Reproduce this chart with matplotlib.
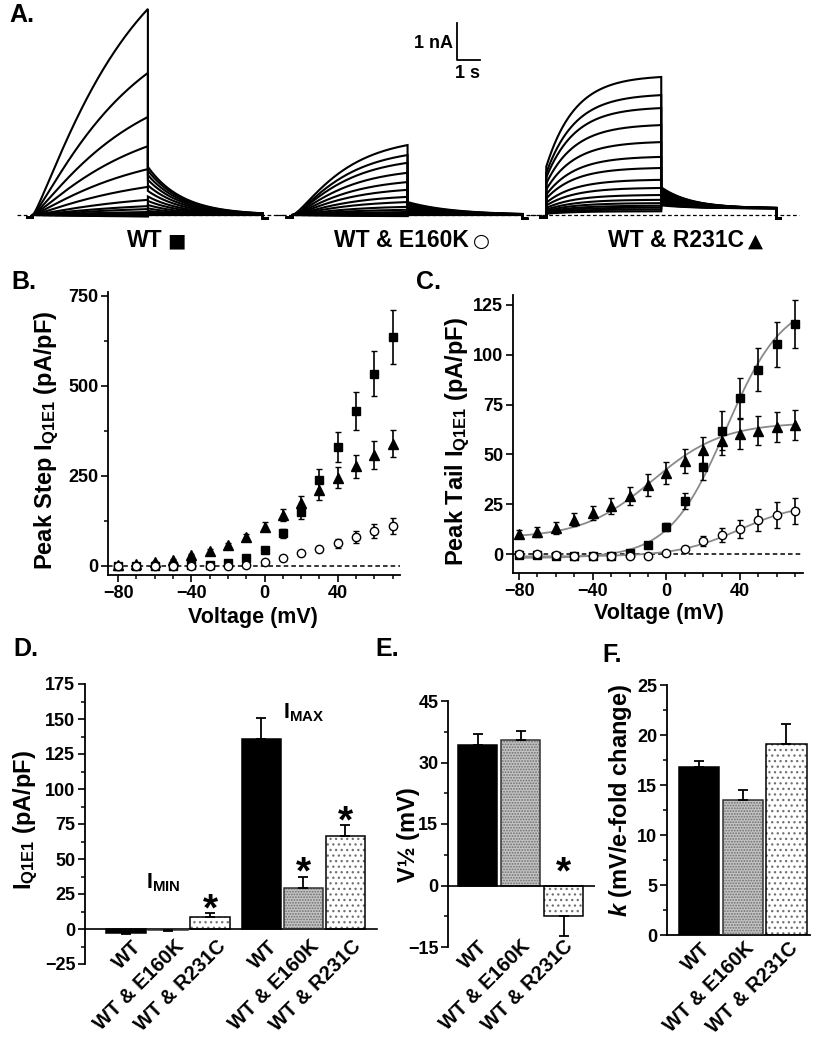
import numpy as np
import matplotlib.pyplot as plt
from matplotlib.transforms import ScaledTranslation

plt.rcParams['font.family'] = ['Liberation Sans', 'DejaVu Sans']
plt.rcParams['font.weight'] = 'bold'
plt.rcParams['mathtext.fontset'] = 'custom'
plt.rcParams['mathtext.rm'] = 'Liberation Sans:bold'
plt.rcParams['mathtext.bf'] = 'Liberation Sans:bold'
plt.rcParams['mathtext.it'] = 'Liberation Sans:bold:italic'
plt.rcParams['axes.linewidth'] = 1.3
plt.rcParams['hatch.linewidth'] = 0.9

# ---- data ----
groups = ['WT', 'WT & E160K', 'WT & R231C']
trace_names = ['WT', 'WT & E160K', 'WT & R231C']
trace_symbols = ['\u25a0', '\u25cb', '\u25b2']

# A: end-of-step and tail amplitudes of each sweep (nA)
a_step_wt = [5.57, 3.84, 2.65, 1.86, 1.24, 0.76, 0.41, 0.24, 0.16, 0.08, 0.04, 0.02, 0.0, -0.02, -0.03, -0.04]
a_tail_wt = [1.30, 1.20, 1.08, 0.95, 0.80, 0.65, 0.50, 0.38, 0.27, 0.18, 0.11, 0.06, 0.03, 0.01, 0.0, 0.0]
a_step_e160k = [1.89, 1.62, 1.41, 1.14, 0.89, 0.68, 0.49, 0.35, 0.22, 0.14, 0.08, 0.04, 0.02, 0.0, -0.02, -0.03]
a_tail_e160k = [0.35, 0.32, 0.29, 0.26, 0.23, 0.20, 0.17, 0.14, 0.11, 0.08, 0.06, 0.04, 0.02, 0.01, 0.0, 0.0]
a_step_r231c = [3.73, 3.24, 2.89, 2.43, 1.97, 1.57, 1.27, 0.95, 0.73, 0.54, 0.41, 0.32, 0.25, 0.20, 0.15, 0.10]
a_tail_r231c = [0.75, 0.72, 0.69, 0.66, 0.62, 0.58, 0.54, 0.50, 0.46, 0.42, 0.38, 0.35, 0.32, 0.30, 0.28, 0.26]
# kinetics: activation tau (s), sigmoid power, instantaneous fraction, tail tau (s), tail offset (nA)
a_kinetics = [(4.0, 1.2, 0.0, 1.5, 0.0),
              (2.0, 1.4, 0.0, 2.0, 0.0),
              (1.25, 1.0, 0.35, 1.3, 0.18)]

voltage = [-80, -70, -60, -50, -40, -30, -20, -10, 0, 10, 20, 30, 40, 50, 60, 70]

# B: peak step current (pA/pF)
step_wt = [0, 0, 1, 1, 2, 3, 7, 21, 44, 91, 151, 239, 331, 431, 533, 634]
step_wt_err = [1, 1, 1, 1, 2, 2, 3, 5, 7, 12, 22, 30, 42, 53, 62, 75]
step_e160k = [0, 0, 0, 0, 0, 0, 0, 2, 11, 21, 35, 47, 63, 81, 97, 112]
step_e160k_err = [1, 1, 1, 1, 1, 1, 1, 1, 3, 4, 5, 8, 12, 17, 20, 22]
step_r231c = [4, 5, 10, 16, 30, 41, 59, 81, 109, 142, 174, 211, 245, 276, 308, 339]
step_r231c_err = [2, 2, 3, 3, 4, 5, 6, 8, 12, 16, 20, 27, 30, 33, 39, 37]

# C: peak tail current (pA/pF)
tail_wt = [-0.3, -0.3, -1, -1, -1.2, -1, 0.5, 4.7, 13.8, 26.4, 43.5, 62, 78.3, 92.5, 105.4, 115.4]
tail_wt_err = [0.5, 0.5, 0.5, 0.5, 0.5, 0.5, 0.8, 1, 2, 4, 6.5, 9.9, 10, 10.9, 11.3, 12]
tail_e160k = [0, 0, -0.3, -0.8, -1.2, -1.2, -1, -1, 0.5, 2.5, 6.4, 9.7, 12.5, 16.9, 19.7, 21.4]
tail_e160k_err = [0.5, 0.5, 0.5, 0.5, 0.5, 0.5, 0.5, 0.5, 0.8, 1.5, 2.5, 3.5, 4.5, 5.5, 6.5, 6.5]
tail_r231c = [10.2, 11.2, 13, 17.2, 20.6, 24, 29, 34.5, 40.7, 46.5, 52, 56.5, 60.4, 62, 63.7, 64.6]
tail_r231c_err = [2, 2.5, 3, 3.2, 3.5, 4, 4.5, 5.5, 5.7, 6, 6.5, 7, 7.5, 7.5, 7.5, 7.5]
# Boltzmann fits: Imin, Imax, V1/2, k
fit_wt = [-2.0, 128.0, 32.5, 15.5]
fit_e160k = [-1.2, 26.0, 40.0, 17.0]
fit_r231c = [8.0, 66.0, -7.5, 19.1]

# D-F: summary values
imin = [-2.6, -0.6, 8.3]
imin_err = [1.0, 0.5, 2.8]
imin_sig = [False, False, True]
imax = [135.5, 29.0, 66.4]
imax_err = [15.4, 8.4, 7.9]
imax_sig = [False, True, True]
v_half = [34.3, 35.4, -7.5]
v_half_err = [2.6, 2.4, 4.7]
v_half_sig = [False, False, True]
k_slope = [16.8, 13.5, 19.1]
k_slope_err = [0.6, 1.0, 2.0]
k_slope_sig = [False, False, False]

# ---- figure ----
W, H = 821, 1050
fig = plt.figure(figsize=(W / 100, H / 100), dpi=100)


def rect(l, t, r, b):
    return [l / W, 1 - b / H, (r - l) / W, (b - t) / H]


def ftext(x, y, s, **kw):
    kw.setdefault('ha', 'center')
    kw.setdefault('va', 'center')
    kw.setdefault('fontweight', 'bold')
    fig.text(x / W, 1 - y / H, s, **kw)


# ---- A: current traces ----
axA = fig.add_axes(rect(0, 0, W, 230))
axA.set_xlim(0, W / 23)
axA.set_ylim(-15 / 37, 215 / 37)
axA.axis('off')

trace_t0 = [1.43, 12.72, 23.75]
steps = [a_step_wt, a_step_e160k, a_step_r231c]
tails = [a_tail_wt, a_tail_e160k, a_tail_r231c]
t_on = np.linspace(0, 5, 250)
t_off = np.linspace(0, 5, 250)
for t0, ss_list, tl_list, (tau, pw, inst_f, tau_t, off) in zip(trace_t0, steps, tails, a_kinetics):
    axA.plot([t0 - 0.7, t0 + 11.0], [0, 0], color='k', lw=0.9, ls=(0, (3, 2)))
    for ss, tl in zip(ss_list, tl_list):
        act = (1 - np.exp(-t_on / tau)) ** pw
        act = act / act[-1]
        i_on = inst_f * ss + (1 - inst_f) * ss * act
        o = min(off, tl)
        i_off = o + (tl - o) * np.exp(-t_off / tau_t)
        x = np.concatenate([[t0 - 0.25, t0], t0 + t_on, t0 + 5 + t_off, [t0 + 10, t0 + 10.2]])
        y = np.concatenate([[-0.07, -0.07], i_on, i_off, [-0.1, -0.1]])
        axA.plot(x, y, color='k', lw=1.5, solid_joinstyle='miter')

# scale bar 1 nA / 1 s
sb_x, sb_y = 457 / 23, 155 / 37
axA.plot([sb_x, sb_x, sb_x + 1], [sb_y + 1, sb_y, sb_y], color='k', lw=1.3)
ftext(433, 43, '1 nA', fontsize=13)
ftext(467, 73, '1 s', fontsize=13)
for xe, name, sym, fs in zip([163, 469, 744], trace_names, trace_symbols, [14, 14, 14]):
    ftext(xe, 241, name, fontsize=16.5, ha='right')
    ftext(xe + 4, 241, sym, fontsize=fs, ha='left', family=['DejaVu Sans'])


def style_axis(ax):
    ax.spines['top'].set_visible(False)
    ax.spines['right'].set_visible(False)
    ax.tick_params(which='major', direction='out', length=5, width=1.2, labelsize=13, pad=2)
    ax.tick_params(which='minor', direction='out', length=3, width=1.1)
    for lab in ax.get_xticklabels() + ax.get_yticklabels():
        lab.set_fontweight('bold')


def iv_series(ax, y, e, marker, face, ms):
    ax.errorbar(voltage, y, yerr=e, fmt=marker, color='k', mfc=face, mec='k', ms=ms,
                mew=1.0, elinewidth=1.2, capsize=2.3, capthick=1.2, zorder=3, clip_on=False)


# ---- B ----
axB = fig.add_axes(rect(108, 292, 400, 575))
axB.set_xlim(-85.5, 74)
axB.set_ylim(-25, 760)
axB.axhline(0, color='k', lw=1.1, ls=(0, (3, 2)), zorder=1)
iv_series(axB, step_wt, step_wt_err, 's', 'k', 5.5)
iv_series(axB, step_r231c, step_r231c_err, '^', 'k', 6.5)
iv_series(axB, step_e160k, step_e160k_err, 'o', 'white', 6)
axB.set_xticks([-80, -40, 0, 40])
axB.set_xticks(voltage, minor=True)
axB.set_yticks([0, 250, 500, 750])
axB.set_yticks([125, 375, 625], minor=True)
axB.tick_params(axis='x', which='minor', length=4)
style_axis(axB)

# ---- C ----
axC = fig.add_axes(rect(513, 295, 803, 573))
axC.set_xlim(-83.3, 74.2)
axC.set_ylim(-9.5, 130)
axC.axhline(0, color='k', lw=1.1, ls=(0, (3, 2)), zorder=1)
vv = np.linspace(voltage[0], voltage[-1], 300)
for p in [fit_wt, fit_e160k, fit_r231c]:
    axC.plot(vv, p[0] + (p[1] - p[0]) / (1 + np.exp((p[2] - vv) / p[3])), color='#8a8a8a', lw=1.3, zorder=2)
iv_series(axC, tail_wt, tail_wt_err, 's', 'k', 5.5)
iv_series(axC, tail_r231c, tail_r231c_err, '^', 'k', 6.5)
iv_series(axC, tail_e160k, tail_e160k_err, 'o', 'white', 6)
axC.set_xticks([-80, -40, 0, 40])
axC.set_xticks(voltage, minor=True)
axC.set_yticks([0, 25, 50, 75, 100, 125])
axC.tick_params(axis='x', which='minor', length=4)
style_axis(axC)

ftext(47, 440, r'Peak Step I$_{\mathrm{Q1E1}}$ (pA/pF)', fontsize=17, rotation=90)
ftext(458, 442, r'Peak Tail I$_{\mathrm{Q1E1}}$ (pA/pF)', fontsize=17, rotation=90)
ftext(253, 617, 'Voltage (mV)', fontsize=15.5)
ftext(659, 614, 'Voltage (mV)', fontsize=15.5)

# ---- bar panels ----
bar_styles = [('black', None, 'black', 'black'),
              ('#c4c4c4', '......', '#6f6f6f', '#333333'),
              ('white', '...', '#707070', 'black')]


def draw_bars(ax, pos, vals, errs, sig, width, star_dy):
    for i, (x, v, e, s) in enumerate(zip(pos, vals, errs, sig)):
        fc, hatch, hc, ec = bar_styles[i % 3]
        ax.bar(x, v, width, color=fc, edgecolor=hc, hatch=hatch, lw=0, zorder=2)
        ax.bar(x, v, width, fill=False, edgecolor=ec, lw=1.1, zorder=3)
        lo, hi = (0, e) if v >= 0 else (e, 0)
        ax.errorbar(x, v, yerr=[[lo], [hi]], fmt='none', ecolor='k', elinewidth=1.3,
                    capsize=3.5, capthick=1.3, zorder=4)
        if s:
            top = v + e if v >= 0 else 0
            ax.annotate('*', (x, top), xytext=(0, star_dy), textcoords='offset points',
                        ha='center', va='center', fontsize=28, fontweight='bold')


def bar_labels(ax, pos, labels, dx, dy):
    ax.set_xticks(pos)
    ax.set_xticklabels(labels, rotation=45, ha='right', rotation_mode='anchor',
                       fontsize=14.5, fontweight='bold')
    ax.tick_params(axis='x', length=0, pad=0)
    off = ScaledTranslation(dx / 100, dy / 100, fig.dpi_scale_trans)
    for lab in ax.get_xticklabels():
        lab.set_transform(lab.get_transform() + off)


# D
axD = fig.add_axes(rect(85, 684, 377, 964))
axD.set_ylim(-25, 175)
axD.set_xlim(-0.976, 5.976)
d_pos = [0, 1, 2, 3.22, 4.22, 5.22]
draw_bars(axD, d_pos, imin + imax, imin_err + imax_err, imin_sig + imax_sig, 0.93, 2)
style_axis(axD)
axD.spines['bottom'].set_position(('data', 0))
axD.spines['bottom'].set_linewidth(1.2)
axD.set_yticks([-25, 0, 25, 50, 75, 100, 125, 150, 175])
axD.set_yticks(np.arange(-12.5, 175, 25), minor=True)
bar_labels(axD, d_pos, groups + groups, 6, -8)
ftext(26, 820, r'I$_{\mathrm{Q1E1}}$ (pA/pF)', fontsize=17, rotation=90)
ftext(163, 883, r'I$_{\mathrm{MIN}}$', fontsize=15.5)
ftext(304, 713, r'I$_{\mathrm{MAX}}$', fontsize=15.5)

# E
axE = fig.add_axes(rect(448, 701, 595, 947))
axE.set_ylim(-15, 45)
axE.set_xlim(-0.686, 2.73)
axE.axhline(0, color='k', lw=1.2, zorder=5)
draw_bars(axE, [0, 1, 2], v_half, v_half_err, v_half_sig, 0.92, 9)
style_axis(axE)
axE.spines['bottom'].set_visible(False)
axE.set_yticks([-15, 0, 15, 30, 45])
axE.set_yticks([-7.5, 7.5, 22.5, 37.5], minor=True)
bar_labels(axE, [0, 1, 2], groups, 0, 10)
ftext(408, 835, 'V\u00bd (mV)', fontsize=17, rotation=90)

# F
axF = fig.add_axes(rect(667, 685, 810, 935))
axF.set_ylim(0, 25)
axF.set_xlim(-0.73, 2.54)
draw_bars(axF, [0, 1, 2], k_slope, k_slope_err, k_slope_sig, 0.92, 9)
style_axis(axF)
axF.set_yticks([0, 5, 10, 15, 20, 25])
axF.set_yticks([2.5, 7.5, 12.5, 17.5, 22.5], minor=True)
bar_labels(axF, [0, 1, 2], groups, 2, -4)
ftext(620, 800, r'$\mathit{k}$ (mV/e-fold change)', fontsize=17, rotation=90)

# panel letters
for x, y, s in [(22, 15, 'A.'), (24, 282, 'B.'), (428, 282, 'C.'),
                (26, 649, 'D.'), (387, 649, 'E.'), (612, 655, 'F.')]:
    ftext(x, y, s, fontsize=18)

fig.savefig('out.png', dpi=100)
